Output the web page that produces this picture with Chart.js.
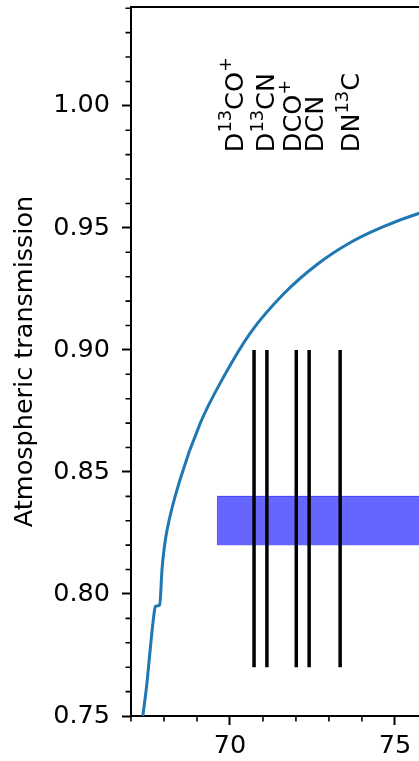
<!DOCTYPE html>
<html>
<head>
<meta charset="utf-8">
<title>Atmospheric transmission</title>
<script src="https://cdn.jsdelivr.net/npm/chart.js@4.4.0/dist/chart.umd.min.js"></script>
<style>
  html, body { margin: 0; padding: 0; background: #fff; overflow: hidden; }
  #wrap { width: 450px; height: 761px; }
</style>
</head>
<body>
<div id="wrap"><canvas id="atmChart" width="450" height="761"></canvas></div>
<script>
// transmission curve (GHz, fraction)
const freq = [67.32, 67.36, 67.48, 67.58, 67.69, 67.74, 67.87, 67.94, 68.00, 68.09, 68.49, 69.10, 69.81, 70.62, 71.63, 72.64, 73.65, 74.65, 75.74, 76.30];
const transmission = [0.745, 0.750, 0.763, 0.777, 0.791, 0.795, 0.7955, 0.810, 0.818, 0.826, 0.847, 0.870, 0.889, 0.907, 0.923, 0.935, 0.944, 0.9505, 0.956, 0.958];

// molecular line markers
const lineFreq = [70.73, 71.12, 72.01, 72.40, 73.34];
const lineBottom = 0.77;
const lineTop = 0.90;

// line labels (rotated text)
const molecules = ['D^{13}CO^+', 'D^{13}CN', 'DCO^+', 'DCN', 'DN^{13}C'];
const labelFreq = [70.11, 71.06, 71.88, 72.53, 73.64];
const labelLevel = 0.981;

// observed band
const bandFreq = [69.62, 77.0];
const bandLow = 0.82;
const bandHigh = 0.84;

// axes
const xTicks = [70, 75];
const yTicks = [0.75, 0.80, 0.85, 0.90, 0.95, 1.00];
const X_MIN = 67, X_MAX = 76.67;
const Y_MIN = 0.75, Y_MAX = 1.0405;

const FONT = '"DejaVu Sans", sans-serif';

function splitLabel(s) {
  // "D^{13}CO^+" -> [{text:'D'}, {text:'13', sup:true}, {text:'CO'}, {text:'+', sup:true}]
  const parts = [];
  const re = /\^\{([^}]*)\}|\^(.)/g;
  let last = 0, m;
  while ((m = re.exec(s)) !== null) {
    if (m.index > last) parts.push({ text: s.slice(last, m.index), sup: false });
    parts.push({ text: m[1] !== undefined ? m[1] : m[2], sup: true });
    last = re.lastIndex;
  }
  if (last < s.length) parts.push({ text: s.slice(last), sup: false });
  return parts;
}

const extras = {
  id: 'extras',
  afterDraw(chart) {
    const { ctx, chartArea: a, scales: { x, y } } = chart;
    ctx.save();
    ctx.strokeStyle = '#000';

    // top spine
    ctx.lineWidth = 2;
    ctx.beginPath();
    ctx.moveTo(a.left - 1, a.top);
    ctx.lineTo(a.right, a.top);
    ctx.stroke();

    // minor ticks
    ctx.lineWidth = 1.6;
    ctx.beginPath();
    for (let i = 75; i <= 104; i++) {
      if (i % 5 === 0) continue;
      const py = y.getPixelForValue(i / 100);
      ctx.moveTo(a.left, py);
      ctx.lineTo(a.left - 5.5, py);
    }
    for (let v = 67; v <= 76; v++) {
      if (v % 5 === 0) continue;
      const px = x.getPixelForValue(v);
      ctx.moveTo(px, a.bottom);
      ctx.lineTo(px, a.bottom + 5.5);
    }
    ctx.stroke();

    // molecule labels, reading upward
    const size = 25.5;
    ctx.fillStyle = '#000';
    ctx.textAlign = 'left';
    ctx.textBaseline = 'alphabetic';
    molecules.forEach((name, i) => {
      ctx.save();
      ctx.translate(x.getPixelForValue(labelFreq[i]), y.getPixelForValue(labelLevel));
      ctx.rotate(-Math.PI / 2);
      let cx = 0;
      const base = 0.365 * size;
      splitLabel(name).forEach(p => {
        const fs = p.sup ? size * 0.7 : size;
        ctx.font = fs + 'px ' + FONT;
        ctx.fillText(p.text, cx, base - (p.sup ? size * 0.45 : 0));
        cx += ctx.measureText(p.text).width;
      });
      ctx.restore();
    });
    ctx.restore();
  }
};

const datasets = [];

datasets.push({
  label: 'transmission',
  data: freq.map((f, i) => ({ x: f, y: transmission[i] })),
  borderColor: '#1f77b4',
  borderWidth: 3,
  pointRadius: 0,
  cubicInterpolationMode: 'monotone',
  fill: false,
  order: 1
});

datasets.push({
  label: 'band',
  data: [
    { x: bandFreq[0], y: bandLow },
    { x: bandFreq[0], y: bandHigh },
    { x: bandFreq[1], y: bandHigh },
    { x: bandFreq[1], y: bandLow }
  ],
  borderColor: 'rgba(0,0,255,0.6)',
  backgroundColor: 'rgba(0,0,255,0.6)',
  borderWidth: 1,
  pointRadius: 0,
  tension: 0,
  fill: { value: bandLow },
  order: 2
});

lineFreq.forEach((f, i) => {
  datasets.push({
    label: molecules[i],
    data: [{ x: f, y: lineBottom }, { x: f, y: lineTop }],
    borderColor: '#000',
    borderWidth: 3.5,
    pointRadius: 0,
    tension: 0,
    fill: false,
    order: 0
  });
});

const tickFont = { family: FONT, size: 25.5 };

function noPad(s) {
  s.paddingTop = 0; s.paddingBottom = 0; s.paddingLeft = 0; s.paddingRight = 0;
}

new Chart(document.getElementById('atmChart'), {
  type: 'line',
  data: { datasets },
  options: {
    responsive: false,
    devicePixelRatio: 1,
    animation: false,
    layout: { padding: { top: 7, left: 0, right: 0, bottom: 0 } },
    plugins: { legend: { display: false }, tooltip: { enabled: false } },
    scales: {
      x: {
        type: 'linear',
        min: X_MIN,
        max: X_MAX,
        afterBuildTicks: s => { s.ticks = xTicks.map(v => ({ value: v })); },
        afterFit: s => { s.height = 45; noPad(s); },
        ticks: { color: '#000', font: tickFont, padding: 6, maxRotation: 0, callback: v => String(v) },
        grid: { drawOnChartArea: false, tickLength: 9, tickWidth: 2, tickColor: '#000' },
        border: { color: '#000', width: 2 }
      },
      y: {
        type: 'linear',
        min: Y_MIN,
        max: Y_MAX,
        afterBuildTicks: s => { s.ticks = yTicks.map(v => ({ value: v })); },
        afterFit: s => { s.width = 131; noPad(s); },
        ticks: { color: '#000', font: tickFont, padding: 12, callback: v => v.toFixed(2) },
        grid: { drawOnChartArea: false, tickLength: 9, tickWidth: 2, tickColor: '#000' },
        border: { color: '#000', width: 2 },
        title: {
          display: true,
          text: 'Atmospheric transmission',
          color: '#000',
          font: { family: FONT, size: 25.5 },
          padding: { top: 10.5, bottom: 0 }
        }
      }
    }
  },
  plugins: [extras]
});
</script>
</body>
</html>
